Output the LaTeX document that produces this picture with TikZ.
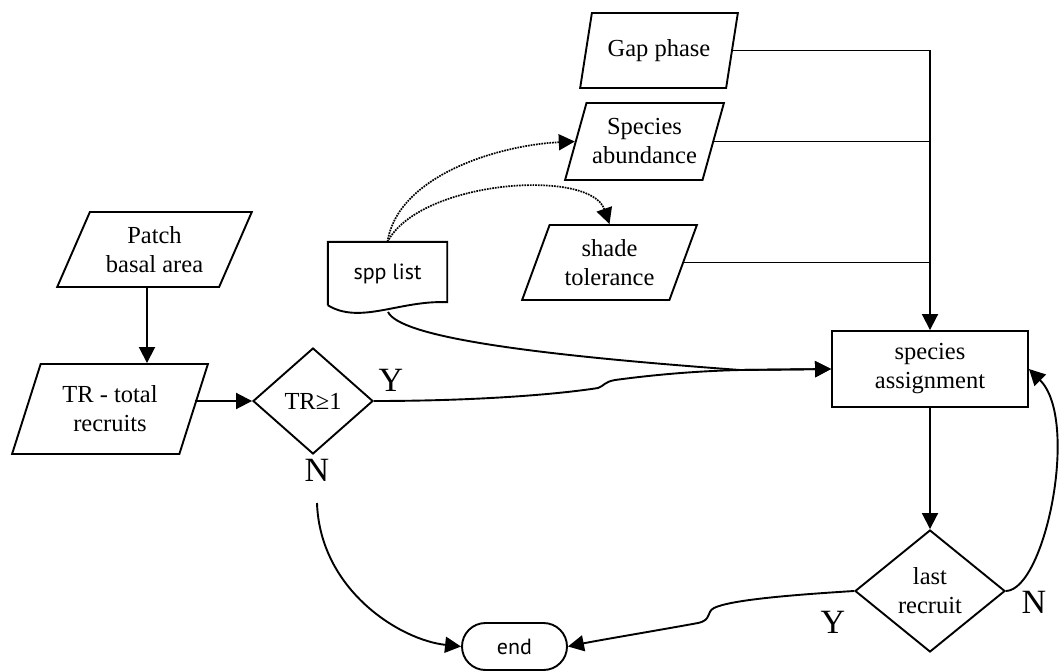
\documentclass[tikz,border=0pt]{standalone}
\usepackage{fontspec}
\setmainfont{Liberation Serif}
\newfontfamily\sppfont{PT Sans}
\usetikzlibrary{shapes.geometric,shapes.misc,arrows.meta}

\begin{document}
\begin{tikzpicture}[x=1bp,y=-1bp,
  every node/.style={font=\fontsize{24.5bp}{29bp}\selectfont, align=center, inner sep=0pt},
  conn/.style={line width=1.9bp},
  arr/.style={conn, -{Triangle[length=16bp,width=16bp]}},
  dotarr/.style={line width=1.7bp, densely dotted, -{Triangle[length=16bp,width=16bp]}},
  io/.style={trapezium, trapezium stretches=true, draw, line width=1.9bp,
             trapezium left angle=#1, trapezium right angle=180-#1},
  io/.default=67,
  procbox/.style={rectangle, draw, line width=1.9bp},
  decision/.style={diamond, draw, line width=1.9bp},
  terminal/.style={rounded rectangle, draw, line width=1.9bp,
                   font=\sppfont\fontsize{22bp}{26bp}\selectfont},
  branch/.style={font=\fontsize{34bp}{40bp}\selectfont}
]
\useasboundingbox (0,0) rectangle (1063,671);

% inputs
\node[io=68, minimum width=158bp, minimum height=75bp] (gap) at (659,50.5) {Gap phase};
\node[io=67, minimum width=159bp, minimum height=77bp] (abund) at (644.5,141.5) {Species\\abundance};
\node[io=66, minimum width=175bp, minimum height=75bp] (shade) at (609.5,262.5) {shade\\tolerance};
\node[io=62, minimum width=195bp, minimum height=75bp] (patch) at (154.5,249.5) {Patch\\basal area};
\node[io=67, minimum width=196bp, minimum height=90bp] (tr) at (110,409) {TR - total\\recruits};

% species list document
\node[minimum width=119bp, minimum height=63bp, font=\sppfont\fontsize{22bp}{26bp}\selectfont]
  (spp) at (387.5,273.5) {spp list};
\draw[conn] (spp.south west) -- (spp.north west) -- (spp.north east) -- ([yshift=3bp]spp.south east)
  .. controls (400,300) and (360,325) .. (spp.south west);
\coordinate (sppb) at (388,312);

% process and decisions
\node[procbox, minimum width=196bp, minimum height=76bp] (assign) at (930,369) {species\\assignment};
\node[decision, minimum width=120bp, minimum height=106bp] (d1) at (313,401) {TR≥1};
\node[decision, minimum width=150bp, minimum height=122bp] (d2) at (930,591) {last\\recruit};
\node[terminal, minimum width=105bp, minimum height=47bp] (end) at (514.5,646.5) {end};

% branch labels
\node[branch] (y1) at (391,380) {Y};
\node[branch] (n1) at (317,470) {N};
\node[branch] (y2) at (833,622) {Y};
\node[branch] (n2) at (1034,602) {N};
\coordinate (n1b) at (317,503);

% connectors
\coordinate (xa) at (147,0);
\draw[arr] (patch.south -| xa) -- (tr.north -| xa);
\draw[arr] (d1.west -| tr.east) -- (d1.west);

\draw[conn] (gap.east) -- (gap.east -| assign.north);
\draw[conn] (abund.east) -- (abund.east -| assign.north);
\draw[conn] (shade.east) -- (shade.east -| assign.north);
\draw[arr] (gap.east -| assign.north) -- (assign.north);

\draw[dotarr] (spp.north) .. controls (398,175) and (500,145) .. (abund.west);
\draw[dotarr] (spp.north) .. controls (420,180) and (590,168) .. (shade.north);

\draw[arr] (sppb) .. controls (400,336) and (520,354) .. (740,370) -- (assign.west);
\draw[arr] (d1.east) .. controls (480,401) and (560,394) .. (598,388)
  .. controls (604,386) and (604,382) .. (615,380)
  .. controls (660,374) and (700,371) .. (740,370) -- (assign.west);

\draw[arr] (assign.south) -- (d2.north);
\draw[arr] (d2.east) .. controls (1045,590) and (1080,420) .. (assign.east);

\draw[arr] (d2.west) .. controls (790,595) and (730,600) .. (714,608)
  .. controls (706,612) and (712,620) .. (698,623)
  .. controls (660,630) and (600,640) .. (end.east);
\draw[arr] (n1b) .. controls (320,590) and (400,640) .. (end.west);
\end{tikzpicture}
\end{document}
